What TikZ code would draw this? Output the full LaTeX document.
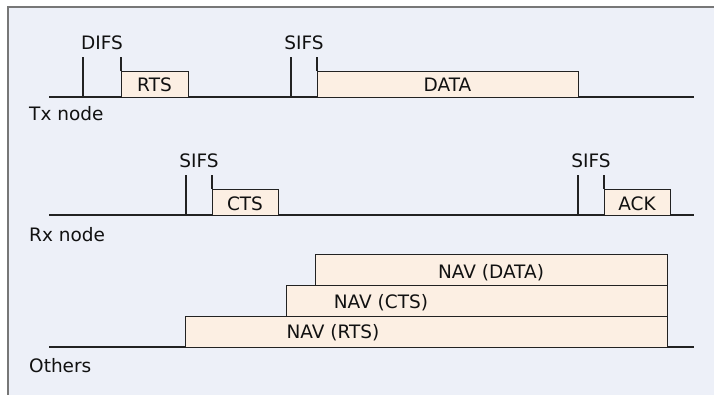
\documentclass[tikz,border=0pt]{standalone}
\usepackage{fontspec}
\setmainfont{DejaVu Sans}
\definecolor{bgc}{HTML}{EDF0F8}
\definecolor{pktfill}{HTML}{FCEFE3}
\definecolor{ink}{HTML}{222222}
\definecolor{txt}{HTML}{111111}
\definecolor{frame}{HTML}{777777}
\begin{document}
\begin{tikzpicture}[x=1pt,y=-1pt,
  lbl/.style={font=\fontsize{18.5}{20}\selectfont, inner sep=0pt, text=txt, anchor=base},
  side/.style={lbl, anchor=base west},
  pkt/.style={draw=ink, line width=1.2pt, fill=pktfill, inner sep=0pt, anchor=north west},
  tl/.style={draw=ink, line width=1.2pt}]
\useasboundingbox (0,0) rectangle (714,395);
\fill[white] (0,0) rectangle (714,395);
\fill[bgc] (7,6) rectangle (714,395);
\draw[frame, line width=2pt] (8,395) -- (8,7) -- (714,7);

% ---------- Tx node ----------
\coordinate (txs) at (49,97);
\coordinate (txe) at (694,97);
\draw[tl] (txs) -- (txe);
\coordinate (difsA) at (83,97);
\coordinate (difsAt) at (83,57);
\draw[tl] (difsA) -- (difsAt);
\node[pkt, minimum width=67, minimum height=26] (rts) at (121,71) {};
\coordinate (difsBt) at (121,57);
\draw[tl] (rts.north west) -- (difsBt);
\coordinate (sifsA) at (291,97);
\coordinate (sifsAt) at (291,57);
\draw[tl] (sifsA) -- (sifsAt);
\node[pkt, minimum width=261, minimum height=26] (data) at (317,71) {};
\coordinate (sifsBt) at (317,57);
\draw[tl] (data.north west) -- (sifsBt);
\node[lbl] (difsl) at (102,50) {DIFS};
\node[lbl] (sifsl1) at (304,50) {SIFS};
\node[lbl] (rtsl) at (154.5,92) {RTS};
\node[lbl] (datal) at (447.5,92) {DATA};
\node[side] (txl) at (29,121) {Tx node};

% ---------- Rx node ----------
\coordinate (rxs) at (49,215);
\coordinate (rxe) at (694,215);
\draw[tl] (rxs) -- (rxe);
\coordinate (sifsC) at (186,215);
\coordinate (sifsCt) at (186,175);
\draw[tl] (sifsC) -- (sifsCt);
\node[pkt, minimum width=66, minimum height=26] (cts) at (212,189) {};
\coordinate (sifsDt) at (212,175);
\draw[tl] (cts.north west) -- (sifsDt);
\coordinate (sifsE) at (578,215);
\coordinate (sifsEt) at (578,175);
\draw[tl] (sifsE) -- (sifsEt);
\node[pkt, minimum width=66, minimum height=26] (ack) at (604,189) {};
\coordinate (sifsFt) at (604,175);
\draw[tl] (ack.north west) -- (sifsFt);
\node[lbl] (sifsl2) at (199,168) {SIFS};
\node[lbl] (sifsl3) at (591,168) {SIFS};
\node[lbl] (ctsl) at (245,211) {CTS};
\node[lbl] (ackl) at (637,211) {ACK};
\node[side] (rxl) at (29,241) {Rx node};

% ---------- Others ----------
\coordinate (ots) at (49,347);
\coordinate (ote) at (694,347);
\draw[tl] (ots) -- (ote);
\node[pkt, minimum width=482, minimum height=31] (navrts) at (185,316) {};
\node[pkt, minimum width=381, minimum height=31] (navcts) at (286,285) {};
\node[pkt, minimum width=352, minimum height=31] (navdata) at (315,254) {};
\node[lbl] (navdatal) at (491,278) {NAV (DATA)};
\node[lbl] (navctsl) at (381,308) {NAV (CTS)};
\node[lbl] (navrtsl) at (333,338) {NAV (RTS)};
\node[side] (otl) at (29,372) {Others};
\end{tikzpicture}
\end{document}
